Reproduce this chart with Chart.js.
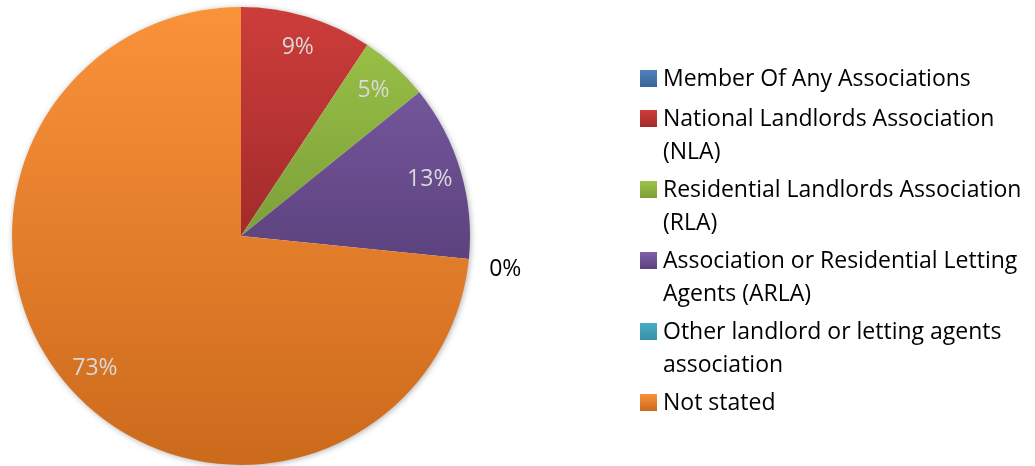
<!DOCTYPE html>
<html>
<head>
<meta charset="utf-8">
<script src="https://cdn.jsdelivr.net/npm/chart.js@4"></script>
<style>
    html, body { margin: 0; padding: 0; background: #fff; }
    #wrap { position: relative; width: 1035px; height: 466px; overflow: hidden; }
    #chart { position: absolute; left: 0; top: 0; }
    #legend { position: absolute; left: 640px; top: 61px; font-family: "Open Sans", sans-serif; font-size: 23px; color: #000; white-space: nowrap; }
    .item { display: flex; align-items: flex-start; margin-bottom: 5px; line-height: 33px; }
    .item:first-child { margin-bottom: 7px; }
    .box { width: 17px; height: 17px; margin: 9px 6px 0 0; flex: none; }
</style>
</head>
<body>
<div id="wrap">
    <canvas id="chart" width="1035" height="466"></canvas>
    <div id="legend"></div>
</div>
<script>
const categories = [
    ['Member Of Any Associations'],
    ['National Landlords Association', '(NLA)'],
    ['Residential Landlords Association', '(RLA)'],
    ['Association or Residential Letting', 'Agents (ARLA)'],
    ['Other landlord or letting agents', 'association'],
    ['Not stated']
];
// share of respondents, % (Member row has no value in the source)
const shares = [null, 9.3, 4.9, 12.4, 0, 73.4];
const pctLabels = ['', '9%', '5%', '13%', '0%', '73%'];

// gradient colours: top, bottom, and how far down the pie the bottom colour sits
const topColors = ['#4F81BD', '#CD3D3A', '#9DC548', '#8060AA', '#4BACC6', '#FA923A'];
const bottomColors = ['#3A6496', '#A22B2B', '#7C9F39', '#5C427E', '#3690A8', '#CC6A1C'];
const bottomStops = [0.5, 0.5, 0.5, 0.55, 0.55, 1];

function sliceFill(ctx, i) {
    const area = ctx.chart.chartArea;
    if (!area) return topColors[i];
    const g = ctx.chart.ctx.createLinearGradient(0, area.top, 0, area.bottom);
    g.addColorStop(0, topColors[i]);
    g.addColorStop(bottomStops[i], bottomColors[i]);
    if (bottomStops[i] < 1) g.addColorStop(1, bottomColors[i]);
    return g;
}

// soft drop shadow under the whole pie
const pieShadow = {
    id: 'pieShadow',
    beforeDatasetsDraw(chart) {
        const arc = chart.getDatasetMeta(0).data.find(a => a);
        if (!arc) return;
        const c = chart.ctx;
        c.save();
        c.shadowColor = 'rgba(0,0,0,0.35)';
        c.shadowBlur = 6;
        c.shadowOffsetX = 1;
        c.shadowOffsetY = 1;
        c.fillStyle = '#fff';
        c.beginPath();
        c.arc(arc.x, arc.y, arc.outerRadius - 0.5, 0, Math.PI * 2);
        c.fill();
        c.restore();
    }
};

const pieLabels = {
    id: 'pieLabels',
    afterDatasetsDraw(chart) {
        const c = chart.ctx;
        const arcs = chart.getDatasetMeta(0).data;
        c.save();
        c.font = '23px "Open Sans", sans-serif';
        c.textAlign = 'center';
        c.textBaseline = 'middle';
        arcs.forEach((arc, i) => {
            if (shares[i] === null || !pctLabels[i]) return;
            const mid = (arc.startAngle + arc.endAngle) / 2;
            const inside = shares[i] > 0;
            const r = inside ? arc.outerRadius * 0.86 : arc.outerRadius * 1.16;
            c.fillStyle = inside ? '#D9D9D9' : '#000';
            // outside label sits a little below the slice edge, as in the original
            const dy = inside ? 0 : 7;
            c.fillText(pctLabels[i], arc.x + Math.cos(mid) * r, arc.y + Math.sin(mid) * r + dy);
        });
        c.restore();
    }
};

new Chart(document.getElementById('chart').getContext('2d'), {
    type: 'pie',
    data: {
        labels: categories,
        datasets: [{
            data: shares,
            backgroundColor: ctx => sliceFill(ctx, ctx.dataIndex),
            borderWidth: 0
        }]
    },
    options: {
        responsive: false,
        animation: false,
        layout: { padding: { left: 12, top: 7, right: 565, bottom: 1 } },
        plugins: { legend: { display: false }, tooltip: { enabled: false } }
    },
    plugins: [pieShadow, pieLabels]
});

// legend as html so the long names can wrap like the original
const legend = document.getElementById('legend');
categories.forEach((lines, i) => {
    const item = document.createElement('div');
    item.className = 'item';
    const box = document.createElement('span');
    box.className = 'box';
    box.style.background = `linear-gradient(${topColors[i]}, ${bottomColors[i]})`;
    const text = document.createElement('span');
    text.innerHTML = lines.join('<br>');
    item.appendChild(box);
    item.appendChild(text);
    legend.appendChild(item);
});
</script>
</body>
</html>
